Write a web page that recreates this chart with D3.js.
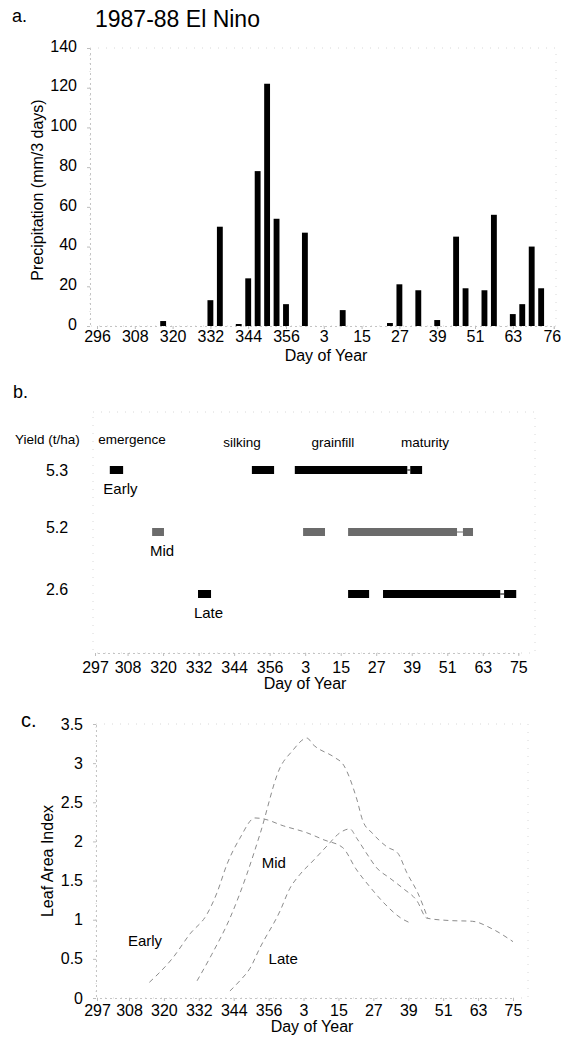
<!DOCTYPE html>
<html>
<head>
<meta charset="utf-8">
<script src="https://cdn.jsdelivr.net/npm/d3@7"></script>
<style>
  body { margin: 0; background: #fff; }
  svg { display: block; font-family: 'Liberation Sans', Arial, sans-serif; }
</style>
</head>
<body>
<div class="figure"></div>
<script>
// day of year, counted on past 365 into 1988 (so 368 = day 3 of 1988)
const rainDays = [317, 332, 335, 341, 344, 347, 350, 353, 356, 362, 374, 389, 392, 398, 404, 410, 413, 419, 422, 428, 431, 434, 437];
const rainMm = [2.5, 13, 50, 1, 24, 78, 122, 54, 11, 47, 8, 1.5, 21, 18, 3, 45, 19, 18, 56, 6, 11, 40, 19];
const rainTicks = [296, 308, 320, 332, 344, 356, 368, 380, 392, 404, 416, 428, 441];
const rainTickLabels = ['296', '308', '320', '332', '344', '356', '3', '15', '27', '39', '51', '63', '76'];
const rainYTicks = [0, 20, 40, 60, 80, 100, 120, 140];

const cultivars = ['Early', 'Mid', 'Late'];
const yields = ['5.3', '5.2', '2.6'];
const stages = ['emergence', 'silking', 'grainfill', 'maturity'];
// [start, end] of each stage
const earlyStages = [[302, 306.5], [350, 357.5], [364.5, 402.5], [403.5, 407.5]];
const midStages = [[316.3, 320.3], [367.3, 374.7], [382.5, 419.3], [421.3, 424.7]];
const lateStages = [[331.8, 336.2], [382.5, 389.6], [394.3, 433.9], [435.2, 439.3]];
const dayTicks = [297, 308, 320, 332, 344, 356, 368, 380, 392, 404, 416, 428, 440];
const dayTickLabels = ['297', '308', '320', '332', '344', '356', '3', '15', '27', '39', '51', '63', '75'];

const laiTicks = [0, 0.5, 1, 1.5, 2, 2.5, 3, 3.5];
const laiEarly = [[315, 0.2], [323, 0.51], [329, 0.82], [334.8, 1.07], [338.2, 1.34], [341.7, 1.71], [346.1, 2.04],
  [351.3, 2.3], [354, 2.29], [361, 2.2], [369.2, 2.11], [375, 2.02], [381.5, 1.92], [386, 1.65], [390.8, 1.42],
  [396, 1.2], [401.5, 1.02], [404.6, 0.96]];
const laiMid = [[331.4, 0.22], [336.5, 0.56], [342.7, 1.02], [348.5, 1.58], [353, 2.09], [359.9, 2.94], [364, 3.15],
  [369.2, 3.32], [371.2, 3.24], [378.8, 3.07], [381.5, 2.99], [386.3, 2.54], [388.4, 2.26], [391.8, 2.1],
  [396.7, 1.93], [400.4, 1.85], [403.5, 1.6], [407.3, 1.34], [410.7, 1.02]];
const laiLate = [[342.7, 0.09], [346.1, 0.22], [349.6, 0.38], [353, 0.64], [359.9, 1.11], [363.3, 1.4], [366.8, 1.58],
  [371.2, 1.75], [376, 1.94], [380.5, 2.11], [383.9, 2.16], [386.3, 2.04], [389.8, 1.84], [393.2, 1.66],
  [397.7, 1.53], [402.2, 1.4], [407, 1.24], [410.4, 1.02], [418, 0.99], [426, 0.98], [433, 0.88], [440, 0.72]];

const config = { width: 561, height: 1041 };

const svg = d3.select('.figure').append('svg')
  .attr('width', config.width)
  .attr('height', config.height);

svg.append('rect').attr('width', config.width).attr('height', config.height).attr('fill', '#fff');

function faintAxis($g) {
  $g.select('.domain').attr('stroke', '#c4c4c4').attr('stroke-dasharray', '2,3');
  $g.selectAll('.tick line').attr('stroke', '#bdbdbd');
  $g.selectAll('.tick text').attr('font-size', 16).attr('fill', '#000').attr('font-family', 'Liberation Sans, Arial, sans-serif');
}

function faintFrame(x0, y0, x1, y1) {
  svg.append('rect')
    .attr('x', x0).attr('y', y0).attr('width', x1 - x0).attr('height', y1 - y0)
    .attr('fill', 'none').attr('stroke', '#d8d8d8').attr('stroke-dasharray', '1,7');
}

function text(x, y, str, size, anchor) {
  return svg.append('text')
    .attr('x', x).attr('y', y)
    .attr('font-size', size)
    .attr('text-anchor', anchor || 'start')
    .text(str);
}

// ---------- a. precipitation ----------
const xA = d3.scaleLinear().domain([296, 441]).range([97, 553.75]);
const yA = d3.scaleLinear().domain([0, 140]).range([326, 48]);

text(12, 22, 'a.', 18);
text(95, 27, '1987-88 El Nino', 23);

faintFrame(90, 48, 556, 326);

const barW = (xA(3) - xA(0)) * 0.62;
svg.append('g').selectAll('rect')
  .data(rainDays)
  .enter()
  .append('rect')
  .attr('x', d => xA(d) - barW / 2)
  .attr('y', (d, i) => yA(rainMm[i]))
  .attr('width', barW)
  .attr('height', (d, i) => yA(0) - yA(rainMm[i]))
  .attr('fill', '#000');

const $xAxisA = svg.append('g')
  .attr('transform', `translate(0,${yA(0)})`)
  .call(d3.axisBottom(xA).tickValues(rainTicks).tickFormat((d, i) => rainTickLabels[i]).tickSize(3).tickPadding(2))
  .call(faintAxis);
// last label sits on the page edge, keep it inside
$xAxisA.selectAll('.tick text')
  .filter((d, i) => i === rainTicks.length - 1)
  .attr('text-anchor', 'end')
  .attr('x', 7);

svg.append('g')
  .attr('transform', 'translate(90,0)')
  .call(d3.axisLeft(yA).tickValues(rainYTicks).tickSize(3).tickPadding(10))
  .call(faintAxis)
  .selectAll('.tick text').attr('dy', '0.2em');

text(326, 361, 'Day of Year', 16, 'middle');
svg.append('text')
  .attr('transform', 'translate(43,190) rotate(-90)')
  .attr('font-size', 16)
  .attr('text-anchor', 'middle')
  .text('Precipitation (mm/3 days)');

// ---------- b. phenology ----------
const xB = d3.scaleLinear().domain([297, 440]).range([95, 518.3]);
const yB = d3.scalePoint().domain(cultivars).range([470, 594]);
const stageRows = [earlyStages, midStages, lateStages];
const rowColors = ['#000', '#6b6b6b', '#000'];

text(13, 398, 'b.', 18);
faintFrame(93, 412, 535, 653);

text(15, 444, 'Yield (t/ha)', 13.5);
const stageLabelDays = [309.5, 346.7, 377.4, 408.5];
svg.append('g').selectAll('text')
  .data(stages)
  .enter()
  .append('text')
  .attr('x', (d, i) => xB(stageLabelDays[i]))
  .attr('y', (d, i) => i === 0 ? 444 : 447)
  .attr('font-size', 13.5)
  .attr('text-anchor', 'middle')
  .text(d => d);

cultivars.forEach((c, r) => {
  const rowY = yB(c);
  const segs = stageRows[r];
  const $row = svg.append('g');

  // thin link from grainfill to maturity
  $row.append('line')
    .attr('x1', xB(segs[2][1])).attr('x2', xB(segs[3][0]))
    .attr('y1', rowY).attr('y2', rowY)
    .attr('stroke', rowColors[r]).attr('stroke-width', 1);

  $row.selectAll('rect')
    .data(segs)
    .enter()
    .append('rect')
    .attr('x', d => xB(d[0]))
    .attr('y', rowY - 4)
    .attr('width', d => xB(d[1]) - xB(d[0]))
    .attr('height', 8)
    .attr('fill', rowColors[r]);

  text(57, rowY + (r === 0 ? 6 : 1), yields[r], 16, 'middle');
  text(xB((segs[0][0] + segs[0][1]) / 2) + 4, rowY + 24, c, 15, 'middle');
});

svg.append('g')
  .attr('transform', 'translate(0,653)')
  .call(d3.axisBottom(xB).tickValues(dayTicks).tickFormat((d, i) => dayTickLabels[i]).tickSize(3).tickPadding(6))
  .call(faintAxis);

text(305, 689, 'Day of Year', 16, 'middle');

// ---------- c. leaf area index ----------
const xC = d3.scaleLinear().domain([297, 440]).range([97, 513]);
const yC = d3.scaleLinear().domain([0, 3.5]).range([998, 724]);

text(21, 727, 'c.', 20);
faintFrame(96, 724, 528, 998);

const line = d3.line()
  .x(d => xC(d[0]))
  .y(d => yC(d[1]))
  .curve(d3.curveMonotoneX);

svg.append('g').selectAll('path')
  .data([laiEarly, laiMid, laiLate])
  .enter()
  .append('path')
  .attr('d', line)
  .attr('fill', 'none')
  .attr('stroke', '#8c8c8c')
  .attr('stroke-width', 1)
  .attr('stroke-dasharray', '5,4');

const laiLabelPos = [[313.5, 0.73], [357.8, 1.72], [361, 0.5]];
cultivars.forEach((c, i) => {
  text(xC(laiLabelPos[i][0]), yC(laiLabelPos[i][1]) + 5, c, 15, 'middle');
});

svg.append('g')
  .attr('transform', `translate(0,${yC(0)})`)
  .call(d3.axisBottom(xC).tickValues(dayTicks).tickFormat((d, i) => dayTickLabels[i]).tickSize(3).tickPadding(4))
  .call(faintAxis);

svg.append('g')
  .attr('transform', 'translate(96,0)')
  .call(d3.axisLeft(yC).tickValues(laiTicks).tickFormat(d3.format('')).tickSize(3).tickPadding(10))
  .call(faintAxis);

text(312, 1032, 'Day of Year', 16, 'middle');
svg.append('text')
  .attr('transform', 'translate(53,861) rotate(-90)')
  .attr('font-size', 16)
  .attr('text-anchor', 'middle')
  .text('Leaf Area Index');
</script>
</body>
</html>
